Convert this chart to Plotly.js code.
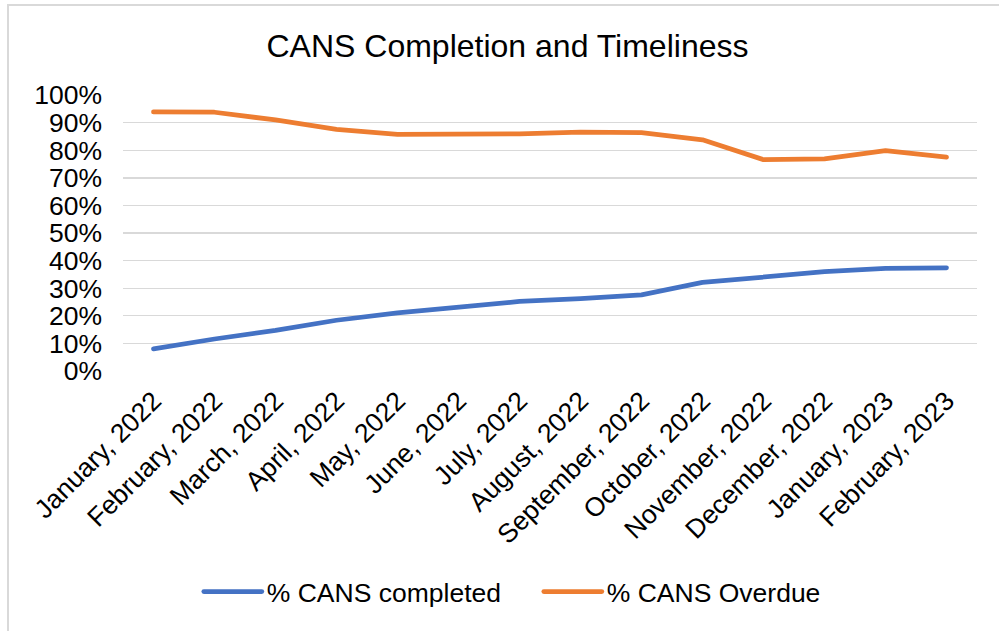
<!DOCTYPE html>
<html>
<head>
<meta charset="utf-8">
<script src="https://cdn.plot.ly/plotly-3.0.1.min.js"></script>
<style>
  html, body { margin: 0; padding: 0; background: #ffffff; }
  #wrap { position: relative; width: 999px; height: 631px; overflow: hidden; }
  #chart { position: absolute; left: 0; top: 0; width: 999px; height: 631px; }
  #frame { position: absolute; left: 7px; top: 4px; width: 1000px; height: 640px;
           border-left: 2px solid #d9d9d9; border-top: 2px solid #d9d9d9; pointer-events: none; }
  .scatterlayer .js-line, .legend .js-line { stroke-linecap: round; stroke-linejoin: round; }
</style>
</head>
<body>
<div id="wrap">
  <div id="chart"></div>
  <div id="frame"></div>
</div>
<script>
const categories = [
  "January, 2022", "February, 2022", "March, 2022", "April, 2022", "May, 2022",
  "June, 2022", "July, 2022", "August, 2022", "September, 2022", "October, 2022",
  "November, 2022", "December, 2022", "January, 2023", "February, 2023"
];
const completed = [0.080, 0.116, 0.147, 0.184, 0.211, 0.232, 0.252, 0.262, 0.276, 0.321, 0.339, 0.360, 0.372, 0.374];
const overdue   = [0.939, 0.938, 0.910, 0.876, 0.858, 0.858, 0.860, 0.866, 0.864, 0.838, 0.766, 0.769, 0.799, 0.775];
const seriesNames = ["% CANS completed", "% CANS Overdue"];
const yTicks = [0, 0.1, 0.2, 0.3, 0.4, 0.5, 0.6, 0.7, 0.8, 0.9, 1.0];
const yTickText = ["0%", "10%", "20%", "30%", "40%", "50%", "60%", "70%", "80%", "90%", "100%"];

const font = "Arial, 'Liberation Sans', sans-serif";

const traces = [
  { x: categories, y: completed, name: seriesNames[0], type: "scatter", mode: "lines",
    line: { color: "#4472C4", width: 4.75 } },
  { x: categories, y: overdue, name: seriesNames[1], type: "scatter", mode: "lines",
    line: { color: "#ED7D31", width: 4.75 } }
];

const layout = {
  width: 999, height: 631,
  margin: { l: 123, r: 22, t: 95, b: 260, pad: 0 },
  paper_bgcolor: "#ffffff", plot_bgcolor: "#ffffff",
  font: { family: font, color: "#000000", size: 26 },
  title: { text: "CANS Completion and Timeliness", font: { family: font, size: 32, color: "#000000" },
           x: 0.508, xref: "container", xanchor: "center", y: 0.928, yanchor: "middle" },
  showlegend: true,
  legend: { orientation: "h", x: 0.199, xanchor: "left", xref: "container", y: 0.062, yanchor: "middle", yref: "container",
            font: { family: font, size: 26.5, color: "#000000" }, itemwidth: 58, entrywidth: 267, traceorder: "normal" },
  xaxis: {
    type: "category", range: [-0.5, 13.5], tickangle: -45,
    showgrid: false, zeroline: false, showline: false, ticks: "",
    tickfont: { family: font, size: 26.5, color: "#000000" }, ticklabelstandoff: 8,
    fixedrange: true
  },
  yaxis: {
    range: [0, 1.0005], tickvals: yTicks, ticktext: yTickText,
    showgrid: true, gridcolor: "#d9d9d9", gridwidth: 1.3,
    zeroline: false, showline: false, ticks: "",
    tickfont: { family: font, size: 26.5, color: "#000000" }, ticklabelstandoff: 20,
    fixedrange: true
  }
};

Plotly.newPlot("chart", traces, layout, { staticPlot: true, displayModeBar: false });
</script>
</body>
</html>
